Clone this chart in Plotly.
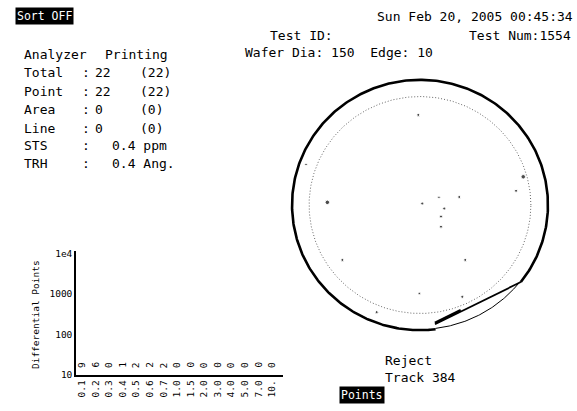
import numpy as np
import plotly.graph_objects as go

# ---------------- data ----------------
size_bins = ["0.1", "0.2", "0.3", "0.4", "0.5", "0.6", "0.7", "1.0", "1.5",
             "2.0", "3.0", "4.0", "5.0", "7.0", "10."]
bin_counts = [9, 6, 0, 1, 2, 2, 2, 0, 0, 0, 0, 0, 0, 0, 0]

y_tick_vals = [10, 100, 1000, 10000]
y_tick_text = ["10", "100", "1000", "1e4"]

row_labels = ["Total", "Point", "Area", "Line", "STS", "TRH"]
row_values = ["22", "22", "0", "0", "0.4 ppm", "0.4 Ang."]
row_printing = ["(22)", "(22)", "(0)", "(0)", "", ""]

wafer_dia = 150
edge_excl = 10

defect_x = [-1.0, -66.8, 60.5, 56.3, -54.3, 11.1, 23.0, 1.3, 14.2, 12.3, 12.3,
            -45.5, 26.5, -0.4, 24.8, -25.4]
defect_y = [54.0, 24.3, 16.9, 8.5, 1.6, 4.6, 4.8, 0.9, -2.1, -6.9, -13.0,
            -32.9, -32.9, -53.0, -55.0, -64.2]

# reject track (chord) end angles in degrees
track_a0 = -38
track_a1 = -83

# ---------------- styles ----------------
W, H = 577, 411
MONO = "DejaVu Sans Mono"
TXT = 13
defect_sizes = [3, 2.5, 4.5, 3, 4.5, 2.5, 3, 3, 3, 3, 3, 3, 3, 2.5, 3, 3]


def px(x):
    return x / W


def py(y):
    return 1 - y / H


fig = go.Figure()

# ---- histogram (log) ----
fig.add_trace(go.Bar(x=size_bins, y=bin_counts, marker_color="black",
                     xaxis="x", yaxis="y", hoverinfo="skip"))

# ---- wafer map ----
R = wafer_dia / 2
Ri = R - edge_excl
th = np.radians(np.linspace(track_a0, 360 + track_a1, 400))
fig.add_trace(go.Scatter(x=R * np.cos(th), y=R * np.sin(th), mode="lines",
                         line=dict(color="black", width=2.6),
                         xaxis="x2", yaxis="y2", hoverinfo="skip"))
th2 = np.radians(np.linspace(track_a1, track_a0, 80))
fig.add_trace(go.Scatter(x=(R - 0.5) * np.cos(th2), y=(R - 0.5) * np.sin(th2),
                         mode="lines", line=dict(color="black", width=1),
                         xaxis="x2", yaxis="y2", hoverinfo="skip"))
thi = np.radians(np.linspace(0, 360, 500))
fig.add_trace(go.Scatter(x=Ri * np.cos(thi), y=Ri * np.sin(thi), mode="lines",
                         line=dict(color="#666666", width=1, dash="1px,2px"),
                         xaxis="x2", yaxis="y2", hoverinfo="skip"))
# chord of reject track
p0 = np.array([R * np.cos(np.radians(track_a0)), R * np.sin(np.radians(track_a0))])
p1 = np.array([(R - 3) * np.cos(np.radians(track_a1)), (R - 3) * np.sin(np.radians(track_a1))])
fig.add_trace(go.Scatter(x=[p0[0], p1[0]], y=[p0[1], p1[1]], mode="lines",
                         line=dict(color="black", width=1.8),
                         xaxis="x2", yaxis="y2", hoverinfo="skip"))
pm = p1 + 0.3 * (p0 - p1)
fig.add_trace(go.Scatter(x=[p1[0], pm[0]], y=[p1[1] + 0.8, pm[1] + 0.8], mode="lines",
                         line=dict(color="black", width=2.6),
                         xaxis="x2", yaxis="y2", hoverinfo="skip"))
fig.add_trace(go.Scatter(x=defect_x, y=defect_y, mode="markers",
                         marker=dict(color="black", size=defect_sizes),
                         xaxis="x2", yaxis="y2", hoverinfo="skip"))

ann = []


def text(x, y, s, size=TXT, anchor="left", **kw):
    ann.append(dict(x=px(x), y=py(y), xref="paper", yref="paper", text=s,
                    showarrow=False, xanchor=anchor, yanchor="middle",
                    font=dict(family=MONO, size=size, color="black"), **kw))


# header boxes
ann.append(dict(x=px(44.5), y=py(12), xref="paper", yref="paper", text="Sort OFF",
                showarrow=False, xanchor="center", yanchor="middle",
                bgcolor="black", borderpad=1,
                font=dict(family=MONO, size=11.5, color="white")))
ann.append(dict(x=px(361.5), y=py(400), xref="paper", yref="paper", text="Points",
                showarrow=False, xanchor="center", yanchor="middle",
                bgcolor="black", borderpad=1,
                font=dict(family=MONO, size=11.5, color="white")))

text(375, 13, "Sun Feb 20, 2005 00:45:34")
text(268, 32, "Test ID:")
text(467, 32, "Test Num:1554")
text(243, 50, f"Wafer Dia: {wafer_dia}  Edge: {edge_excl}")

text(22, 52, "Analyzer")
text(103, 52, "Printing")
row_y = [70, 89, 108, 127, 145, 163]
for lab, val, prn, yy in zip(row_labels, row_values, row_printing, row_y):
    text(22, yy, lab)
    text(80, yy, ":")
    text(110 if "." in val else 93, yy, val)
    if prn:
        text(138, yy, prn)

text(383, 364, "Reject")
text(383, 382, "Track 384")

# y title
text(35, 318, "Differential Points", size=9.5, anchor="center", textangle=-90)

# count labels over histogram
for i, c in enumerate(bin_counts):
    ann.append(dict(x=i, y=py(369), xref="x", yref="paper", text=str(c),
                    showarrow=False, textangle=-90, xanchor="center", yanchor="middle",
                    font=dict(family=MONO, size=9.5, color="black")))

fig.update_layout(
    width=W, height=H, margin=dict(l=0, r=0, t=0, b=0),
    paper_bgcolor="white", plot_bgcolor="white", showlegend=False,
    hovermode=False, annotations=ann, bargap=0.3,
    xaxis=dict(domain=[px(76), px(283)], type="category", range=[-0.44, 14.8],
               showline=True, linecolor="black", linewidth=1.5, showgrid=False,
               ticks="", tickangle=-90, zeroline=False,
               tickfont=dict(family=MONO, size=9.5, color="black"), anchor="y"),
    yaxis=dict(domain=[py(379), py(253)], type="log", range=[1, 4.05],
               tickvals=y_tick_vals, ticktext=y_tick_text, showline=True,
               linecolor="black", linewidth=1.5, showgrid=False, ticks="",
               zeroline=False, tickfont=dict(family=MONO, size=9.5, color="black"),
               anchor="x"),
    xaxis2=dict(domain=[px(283.5), px(556.5)], range=[-80, 80], visible=False,
                anchor="y2"),
    yaxis2=dict(domain=[py(342), py(69)], range=[-80, 80], visible=False,
                anchor="x2"),
)

fig.write_html("out.html")
